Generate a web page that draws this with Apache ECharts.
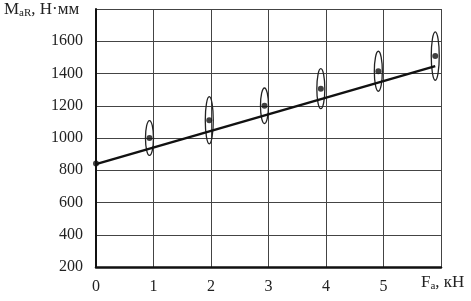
<!DOCTYPE html>
<html><head><meta charset="utf-8">
<script src="https://cdn.jsdelivr.net/npm/echarts@6/dist/echarts.min.js"></script>
<style>html,body{margin:0;padding:0;background:#fff}#c{width:471px;height:301px}</style>
</head><body><div id="c"></div>
<script>
// measured points (F_a, kN ; M_aR, N·mm)
const pointX = [0, 0.93, 1.97, 2.93, 3.91, 4.91, 5.9];
const pointY = [842, 1000, 1110, 1200, 1306, 1414, 1508];
// half heights of the scatter ellipses (N·mm)
const spreadY = [0, 108, 146, 110, 124, 124, 150];
// regression line endpoints
const lineX = [0, 5.9];
const lineY = [838, 1446];
const yTicks = [200, 400, 600, 800, 1000, 1200, 1400, 1600];
const xTicks = [0, 1, 2, 3, 4, 5];

const font = '"Liberation Serif", "DejaVu Serif", serif';
const chart = echarts.init(document.getElementById('c'));
chart.setOption({
  animation: false,
  grid: {left: 96, right: 30, top: 9, bottom: 34},
  xAxis: {
    type: 'value', min: 0, max: 6, interval: 1,
    axisLine: {show: true, onZero: false, lineStyle: {color: '#111', width: 2.5}},
    axisTick: {show: false},
    splitLine: {show: true, lineStyle: {color: '#444', width: 1}},
    axisLabel: {margin: 12, color: '#222', fontFamily: font, fontSize: 16,
      formatter: v => xTicks.includes(v) ? String(v) : ''}
  },
  yAxis: {
    type: 'value', min: 200, max: 1800, interval: 200,
    axisLine: {show: true, onZero: false, lineStyle: {color: '#111', width: 2}},
    axisTick: {show: false},
    splitLine: {show: true, lineStyle: {color: '#444', width: 1}},
    axisLabel: {margin: 13, color: '#222', fontFamily: font, fontSize: 16,
      formatter: v => yTicks.includes(v) ? String(v) : ''}
  },
  graphic: [
    {type: 'text', left: 4, top: 1, style: {
      rich: {a: {fontFamily: font, fontSize: 17, fill: '#222'}, s: {fontFamily: font, fontSize: 11, fill: '#222', padding: [8, 0, 0, 0]}},
      text: '{a|M}{s|aR}{a|, Н·мм}'
    }},
    {type: 'text', left: 421, top: 274, style: {
      rich: {a: {fontFamily: font, fontSize: 17, fill: '#222'}, s: {fontFamily: font, fontSize: 11, fill: '#222', padding: [8, 0, 0, 0]}},
      text: '{a|F}{s|a}{a|, кН}'
    }}
  ],
  series: [
    {
      type: 'custom',
      data: pointX.map((x, i) => [x, pointY[i], spreadY[i]]).filter(d => d[2] > 0),
      renderItem: (params, api) => {
        const c = api.coord([api.value(0), api.value(1)]);
        const top = api.coord([api.value(0), api.value(1) + api.value(2)]);
        const ry = c[1] - top[1];
        return {type: 'ellipse', shape: {cx: c[0], cy: c[1], rx: 4, ry: ry},
          style: {fill: 'none', stroke: '#222', lineWidth: 1.3}};
      },
      z: 3
    },
    {
      type: 'line',
      data: lineX.map((x, i) => [x, lineY[i]]),
      symbol: 'none',
      lineStyle: {color: '#111', width: 2.5},
      z: 4
    },
    {
      type: 'scatter',
      data: pointX.map((x, i) => [x, pointY[i]]),
      symbol: 'circle', symbolSize: 6,
      itemStyle: {color: '#111'},
      z: 5
    }
  ]
});
</script></body></html>
